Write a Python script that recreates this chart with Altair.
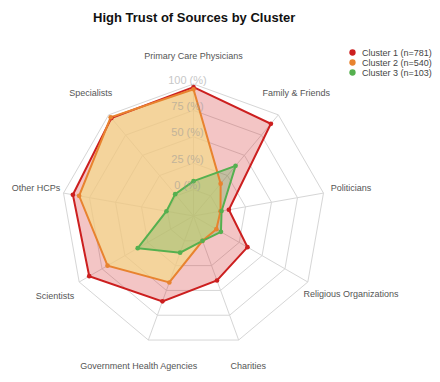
import altair as alt
import pandas as pd

categories = ["Primary Care Physicians", "Family & Friends", "Politicians",
              "Religious Organizations", "Charities", "Government Health Agencies",
              "Scientists", "Other HCPs", "Specialists"]
cluster_names = ["Cluster 1 (n=781)", "Cluster 2 (n=540)", "Cluster 3 (n=103)"]
cluster1 = [97, 89, 9, 34, 40, 61, 89, 91, 96]
cluster2 = [95, 15, 1, 0, 0, 42, 69, 85, 97]
cluster3 = [8, 37, 2, 5, 0, 12, 36, 1, 2]
levels = [0, 25, 50, 75, 100]
tick_labels = ["0 (%)", "25 (%)", "50 (%)", "75 (%)", "100 (%)"]

line_colors = ["#cc1f1f", "#e8832f", "#55b04f"]
fill_colors = ["#d32f2f", "#f3da8a", "#55b04f"]
fill_opac = [0.28, 0.7, 0.3]

FONT = "Liberation Sans, Arial, Helvetica"
n = len(categories)

# long data, closed polygons (first point repeated at the end)
rows = []
for name, vals in zip(cluster_names, [cluster1, cluster2, cluster3]):
    for i in range(n + 1):
        rows.append({"cluster": name, "category": categories[i % n],
                     "value": vals[i % n], "idx": i})
series = pd.DataFrame(rows)

grid = pd.DataFrame([{"level": lv, "value": lv, "idx": i}
                     for lv in levels for i in range(n + 1)])
spokes = pd.DataFrame({"category": categories, "idx": list(range(n))})
ticks = pd.DataFrame({"level": levels, "label": tick_labels})
cats = pd.DataFrame({"category": categories, "idx": list(range(n))})

# radius in value units: the centre sits at -25 %
ANG = "(PI/2 - datum.idx*2*PI/9)"
XR = f"(datum.value+25)*cos{ANG}"
YR = f"(datum.value+25)*sin{ANG}"

xs = alt.Scale(domain=[-175.66, 225.85], nice=False, zero=False)
ys = alt.Scale(domain=[-149.62, 168.56], nice=False, zero=False)
X = alt.X("x:Q", scale=xs, axis=None)
Y = alt.Y("y:Q", scale=ys, axis=None)

ring = alt.Chart(grid).transform_calculate(x=XR, y=YR).mark_line(
    stroke="#d6d6d6", strokeWidth=1
).encode(x=X, y=Y, detail="level:N", order="idx:Q")

spoke = alt.Chart(spokes).transform_calculate(
    x="0", y="0", x1=f"125*cos{ANG}", y1=f"125*sin{ANG}"
).mark_rule(stroke="#d6d6d6", strokeWidth=1).encode(
    x=X, y=Y, x2="x1:Q", y2="y1:Q")

fills = []
lines = []
for k, name in enumerate(cluster_names):
    base = alt.Chart(series).transform_filter(
        alt.datum.cluster == name).transform_calculate(x=XR, y=YR)
    fills.append(
        base.mark_line(fill=fill_colors[k], fillOpacity=fill_opac[k], strokeWidth=0)
        .encode(x=X, y=Y, order="idx:Q"))
    lines.append(
        base.mark_line(stroke=line_colors[k], strokeWidth=2)
        .encode(x=X, y=Y, order="idx:Q"))

cscale = alt.Scale(domain=cluster_names, range=line_colors)

points = alt.Chart(series).transform_filter(alt.datum.idx < n).transform_calculate(
    x=XR, y=YR).mark_circle(size=22, opacity=1).encode(
    x=X, y=Y,
    color=alt.Color("cluster:N", scale=cscale, legend=alt.Legend(
        title=None, orient="none", legendX=340, legendY=10,
        labelFontSize=9, labelFont=FONT, labelColor="#444",
        symbolType="circle", symbolSize=40, symbolStrokeWidth=0,
        labelOffset=5, rowPadding=0, padding=0)))

tick_text = alt.Chart(ticks).transform_calculate(
    x="-5.7", y="datum.level + 25 + 3.3"
).mark_text(fontSize=11, font=FONT, color="#999999", opacity=0.55,
            align="center", baseline="middle").encode(x=X, y=Y, text="label:N")

cat_text = alt.Chart(cats).transform_calculate(
    ox="datum.category == 'Religious Organizations' ? 18 : 0",
    oy="datum.category == 'Religious Organizations' ? 2 : 0"
).transform_calculate(
    x=f"151.5*cos{ANG} + datum.ox", y=f"151.5*sin{ANG} + datum.oy"
).mark_text(fontSize=9, font=FONT, color="#555555",
            align="center", baseline="middle").encode(x=X, y=Y, text="category:N")

chart = alt.layer(ring, spoke, *fills, *lines, points, tick_text, cat_text).properties(
    width=424, height=336,
    autosize=alt.AutoSizeParams(type="none"),
    padding={"left": 0, "top": 30, "right": 0, "bottom": 0},
    title=alt.Title("High Trust of Sources by Cluster", fontSize=13, font=FONT,
                    fontWeight="bold", color="#111111", anchor="start", dx=85,
                    dy=14.5, offset=18, baseline="alphabetic", frame="group"),
).configure_view(stroke=None)

chart.save("out.html", embed_options={"renderer": "svg", "actions": False})
